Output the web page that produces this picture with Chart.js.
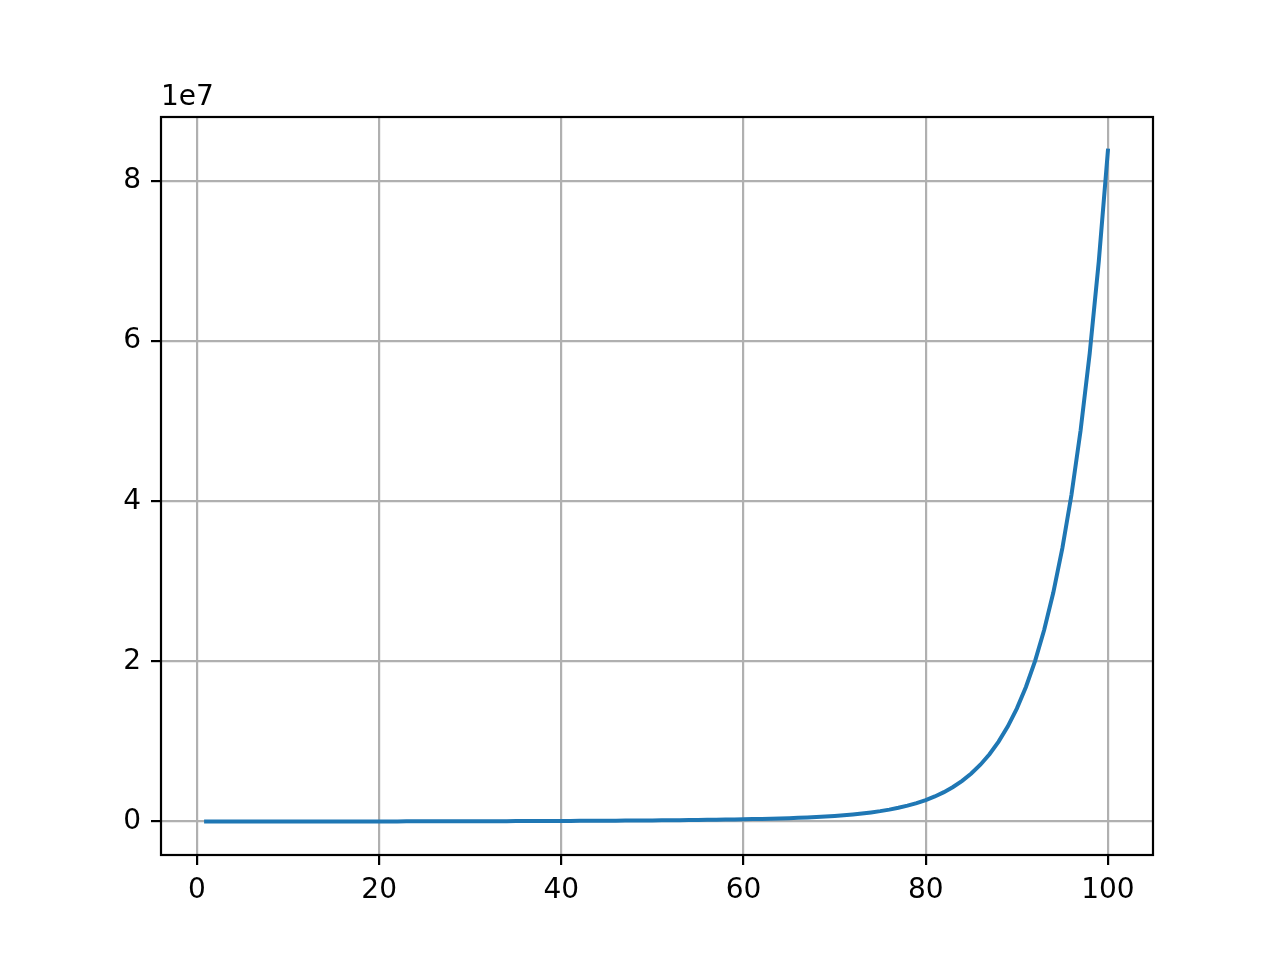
<!DOCTYPE html>
<html>
<head>
<meta charset="utf-8">
<script src="https://cdn.jsdelivr.net/npm/chart.js@4"></script>
<style>
  body { margin: 0; background: #fff; }
  canvas { display: block; }
</style>
</head>
<body>
<canvas id="myChart" width="1280" height="960"></canvas>
<script>
// x positions of the samples
const xValues = [
  1, 2, 3, 4, 5, 6, 7, 8, 9, 10,
  11, 12, 13, 14, 15, 16, 17, 18, 19, 20,
  21, 22, 23, 24, 25, 26, 27, 28, 29, 30,
  31, 32, 33, 34, 35, 36, 37, 38, 39, 40,
  41, 42, 43, 44, 45, 46, 47, 48, 49, 50,
  51, 52, 53, 54, 55, 56, 57, 58, 59, 60,
  61, 62, 63, 64, 65, 66, 67, 68, 69, 70,
  71, 72, 73, 74, 75, 76, 77, 78, 79, 80,
  81, 82, 83, 84, 85, 86, 87, 88, 89, 90,
  91, 92, 93, 94, 95, 96, 97, 98, 99, 100
];

// values
const yValues = [
  2, 9, 29, 66, 127, 219, 347, 516, 734, 1006,
  1338, 1737, 2208, 2757, 3390, 4114, 4935, 5859, 6891, 8038,
  9307, 10700, 12230, 13900, 15720, 17690, 19820, 22120, 24590, 27240,
  30080, 33110, 36350, 39800, 43470, 47370, 51500, 55890, 60540, 65470,
  70690, 76200, 82050, 88230, 94780, 101700, 109100, 116900, 125200, 134100,
  143600, 153700, 164600, 176300, 189000, 202800, 217800, 234200, 252300, 272300,
  294600, 319500, 347400, 379000, 414800, 455800, 502700, 556700, 619300, 691900,
  776600, 875700, 991900, 1129000, 1290000, 1481000, 1707000, 1975000, 2293000, 2672000,
  3124000, 3662000, 4305000, 5072000, 5990000, 7087000, 8399000, 9970000, 11850000, 14100000,
  16800000, 20040000, 23920000, 28570000, 34140000, 40820000, 48840000, 58450000, 69990000, 83820000
];

// tick values
const xTicks = [0, 20, 40, 60, 80, 100];
const yTicks = [0, 20000000, 40000000, 60000000, 80000000];
const yScaleLabel = "1e7";

Chart.defaults.font.family = "DejaVu Sans";
Chart.defaults.font.size = 28;
Chart.defaults.color = "#000";

const framePlugin = {
  id: "frame",
  afterDraw(chart) {
    const { ctx, chartArea } = chart;
    ctx.save();
    ctx.strokeStyle = "#000";
    ctx.lineWidth = 2.2;
    ctx.strokeRect(chartArea.left, chartArea.top,
      chartArea.right - chartArea.left, chartArea.bottom - chartArea.top);
    ctx.fillStyle = "#000";
    ctx.font = "28px 'DejaVu Sans'";
    ctx.textAlign = "left";
    ctx.textBaseline = "alphabetic";
    ctx.fillText(yScaleLabel, chartArea.left, chartArea.top - 12);
    ctx.restore();
  }
};

const ctx = document.getElementById("myChart").getContext("2d");
new Chart(ctx, {
  type: "line",
  data: {
    datasets: [{
      data: xValues.map((x, i) => ({ x: x, y: yValues[i] })),
      borderColor: "#1f77b4",
      borderWidth: 4,
      borderCapStyle: "square",
      pointRadius: 0,
      fill: false,
      tension: 0
    }]
  },
  options: {
    responsive: false,
    animation: false,
    devicePixelRatio: 1,
    layout: { padding: { left: 0, top: 117, right: 127, bottom: 0 } },
    plugins: { legend: { display: false }, tooltip: { enabled: false } },
    scales: {
      x: {
        type: "linear",
        min: -3.95,
        max: 104.95,
        afterFit: (scale) => { scale.height = 105; },
        afterBuildTicks: (scale) => { scale.ticks = xTicks.map(v => ({ value: v })); },
        ticks: { maxRotation: 0, autoSkip: false, padding: 9, includeBounds: false },
        grid: { color: "#b0b0b0", lineWidth: 2.2, tickLength: 10, tickColor: "#000", tickWidth: 2.2 },
        border: { display: false }
      },
      y: {
        type: "linear",
        min: -4190000,
        max: 88010000,
        afterFit: (scale) => { scale.width = 161; },
        afterBuildTicks: (scale) => { scale.ticks = yTicks.map(v => ({ value: v })); },
        ticks: {
          padding: 10,
          includeBounds: false,
          callback: (v) => String(v / 10000000)
        },
        grid: { color: "#b0b0b0", lineWidth: 2.2, tickLength: 10, tickColor: "#000", tickWidth: 2.2 },
        border: { display: false }
      }
    }
  },
  plugins: [framePlugin]
});
</script>
</body>
</html>
